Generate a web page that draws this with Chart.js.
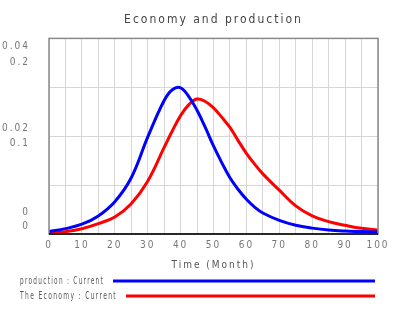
<!DOCTYPE html>
<html>
<head>
<meta charset="utf-8">
<script src="https://cdn.jsdelivr.net/npm/chart.js@4.4.1/dist/chart.umd.min.js"></script>
<style>
  html, body { margin: 0; padding: 0; background: #fff; }
  #wrap { width: 400px; height: 323px; }
</style>
</head>
<body>
<div id="wrap"><canvas id="myChart"></canvas></div>
<script>
// data
var months = [0, 5, 10, 15, 20, 25, 30, 35, 37.5, 40, 42.5, 45, 47.5, 50, 52.5, 55, 57.5, 60, 62.5, 65, 70, 75, 80, 85, 90, 95, 100];
var production = [0.0005, 0.0011, 0.002, 0.0037, 0.0066, 0.0115, 0.0198, 0.0273, 0.0295, 0.0299, 0.0281, 0.0253, 0.0218, 0.018, 0.0146, 0.0115, 0.0091, 0.0071, 0.0055, 0.0043, 0.0028, 0.0018, 0.0012, 0.0008, 0.0006, 0.0005, 0.0004];
var economy = [0.0007, 0.0024, 0.0054, 0.0106, 0.0174, 0.031, 0.054, 0.0885, 0.1056, 0.121, 0.1323, 0.138, 0.1355, 0.129, 0.1195, 0.109, 0.0955, 0.0825, 0.0715, 0.0615, 0.0448, 0.0287, 0.0185, 0.0126, 0.0089, 0.0058, 0.0041];
var prodTicks = [0.04, 0.02, 0];
var econTicks = [0.2, 0.1, 0];
var seriesNames = ['production : Current', 'The Economy : Current'];
var legendWidths = [84, 97];

var fontFam = '"Liberation Sans Narrow", "DejaVu Sans Condensed", "Liberation Sans", sans-serif';
var textCol = '#555';

function pts(vals) {
    var out = [];
    for (var i = 0; i < months.length; i++) {
        out.push({x: months[i], y: vals[i]});
    }
    return out;
}

// spaced-out lettering like the original
var spacing = {
    id: 'spacing',
    beforeUpdate: function(chart) { chart.ctx.letterSpacing = '2px'; },
    beforeDraw: function(chart) { chart.ctx.letterSpacing = '2px'; }
};

// frame, stacked left labels and the legend
var extras = {
    id: 'extras',
    afterDraw: function(chart) {
        var ctx = chart.ctx, a = chart.chartArea;
        var ys = chart.scales.y, ys1 = chart.scales.y1;
        ctx.save();
        ctx.strokeStyle = '#8a8a8a';
        ctx.lineWidth = 1.5;
        ctx.strokeRect(a.left, a.top, a.right - a.left, a.bottom - a.top);
        ctx.strokeStyle = '#000';
        ctx.lineWidth = 1.5;
        ctx.beginPath();
        ctx.moveTo(a.left, a.bottom);
        ctx.lineTo(a.right, a.bottom);
        ctx.stroke();

        ctx.letterSpacing = '2px';
        ctx.font = '10px ' + fontFam;
        ctx.fillStyle = '#777';
        ctx.textAlign = 'right';
        ctx.textBaseline = 'middle';
        var lx = a.left - 19;
        for (var i = 0; i < prodTicks.length; i++) {
            var py = ys.getPixelForValue(prodTicks[i]);
            var ey = ys1.getPixelForValue(econTicks[i]);
            var o1, o2;
            if (i == 0) { o1 = 8; o2 = 24; }
            else if (i == prodTicks.length - 1) { o1 = -22; o2 = -8; }
            else { o1 = -8; o2 = 7; }
            ctx.fillText(String(prodTicks[i]), lx, py + o1);
            ctx.fillText(String(econTicks[i]), lx, ey + o2);
        }

        // legend
        ctx.textAlign = 'left';
        ctx.fillStyle = textCol;
        var ds = chart.data.datasets;
        for (var j = 0; j < ds.length; j++) {
            var ty = 281 + j * 15;
            ctx.fillText(ds[j].label, 20, ty, legendWidths[j]);
            ctx.strokeStyle = ds[j].borderColor;
            ctx.lineWidth = 3;
            ctx.beginPath();
            ctx.moveTo(20 + legendWidths[j] + 9, ty);
            ctx.lineTo(375, ty);
            ctx.stroke();
        }
        ctx.restore();
    }
};

var ctx = document.getElementById('myChart').getContext('2d');
var myChart = new Chart(ctx, {
    type: 'line',
    data: {
        datasets: [{
            label: seriesNames[0],
            data: pts(production),
            yAxisID: 'y',
            borderColor: '#0000ff',
            borderWidth: 3,
            pointRadius: 0,
            tension: 0.4
        }, {
            label: seriesNames[1],
            data: pts(economy),
            yAxisID: 'y1',
            borderColor: '#ff0000',
            borderWidth: 3,
            pointRadius: 0,
            tension: 0.4
        }]
    },
    options: {
        responsive: true,
        maintainAspectRatio: false,
        animation: false,
        layout: { padding: { left: 49, right: 22, top: 0, bottom: 52 } },
        plugins: {
            legend: { display: false },
            tooltip: { enabled: false },
            title: {
                display: true,
                text: 'Economy and production',
                color: '#444',
                font: { family: fontFam, size: 12, weight: 'normal' },
                padding: { top: 13, bottom: 11 }
            }
        },
        scales: {
            x: {
                type: 'linear',
                min: 0,
                max: 100,
                ticks: {
                    stepSize: 5,
                    autoSkip: false,
                    maxRotation: 0,
                    padding: 5,
                    color: '#777',
                    font: { family: fontFam, size: 10 },
                    callback: function(v) { return v % 10 === 0 ? String(v) : ''; }
                },
                grid: { color: '#d6d6d6', drawTicks: false },
                border: { display: false },
                title: {
                    display: true,
                    text: 'Time (Month)',
                    color: textCol,
                    font: { family: fontFam, size: 10 },
                    padding: { top: 3, bottom: 0 }
                }
            },
            y: {
                position: 'left',
                min: 0,
                max: 0.04,
                ticks: { stepSize: 0.01, display: false },
                grid: { color: '#d6d6d6', drawTicks: false },
                border: { display: false }
            },
            y1: {
                position: 'left',
                display: false,
                min: 0,
                max: 0.2
            }
        }
    },
    plugins: [spacing, extras]
});
</script>
</body>
</html>
